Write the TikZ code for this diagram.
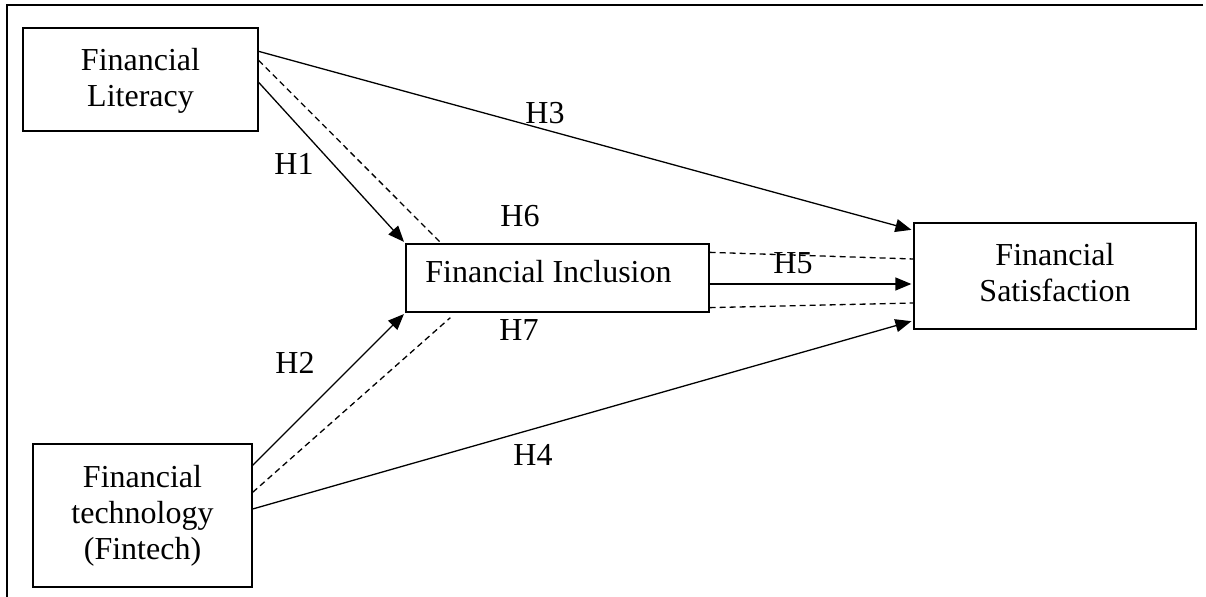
\documentclass[tikz,border=0pt]{standalone}
\usepackage{fontspec}
\setmainfont{Liberation Serif}
\usetikzlibrary{positioning,arrows.meta}

\begin{document}
\begin{tikzpicture}
	[x=0.5pt,y=-0.5pt,on grid,line width=0.65pt,
	 font=\fontsize{16pt}{18pt}\selectfont,
	 box/.style={draw,rectangle,align=center,inner sep=0pt},
	 hyp/.style={inner sep=0pt},
	 arr/.style={-{Triangle[length=8pt,width=6.5pt]},shorten >=1pt},
	 dashline/.style={dash pattern=on 3pt off 2pt}]
	\useasboundingbox (0,0) rectangle (1206,597);
	\draw[line width=0.9pt] (1203,5) -- (7,5) -- (7,597);

	\node[box,minimum width=117.5pt,minimum height=51.5pt,text depth=2pt] (lit) at (140.5,79.5) {Financial\\Literacy};
	\node[box,minimum width=151.5pt,minimum height=34pt,text depth=7pt] (incl) [below right=99.25pt and 208.5pt of lit] {Financial Inclusion\kern9pt};
	\node[box,minimum width=141pt,minimum height=53pt,text depth=3.6pt] (sat) [right=248.75pt of incl,yshift=1pt] {Financial\\Satisfaction};
	\node[box,minimum width=109.5pt,minimum height=71.5pt] (fin) [below=218pt of lit,xshift=1pt] {Financial\\technology\\(Fintech)};

	\draw[arr] ([yshift=-12pt]lit.north east) -- ([yshift=-4pt]sat.north west);
	\draw[dashline] ([yshift=-16.5pt]lit.north east) -- ([xshift=18pt]incl.north west);
	\draw[arr] ([yshift=-27.5pt]lit.north east) -- (incl.north west);
	\draw[arr] ([yshift=-11pt]fin.north east) -- (incl.south west);
	\draw[dashline] ([yshift=-24.5pt]fin.north east) -- ([xshift=22.5pt,yshift=-2.5pt]incl.south west);
	\draw[arr] ([yshift=3.25pt]fin.east) -- ([yshift=4.5pt]sat.south west);
	\draw[arr] ([yshift=-3pt]incl.east) -- ([yshift=-4pt]sat.west);
	\draw[dashline] ([yshift=-4.5pt]incl.north east) -- ([yshift=8.5pt]sat.west);
	\draw[dashline] ([yshift=2.5pt]incl.south east) -- ([yshift=-13.5pt]sat.west);

	\node[hyp] (h1) at (294,164) {H1};
	\node[hyp] (h2) at (295,363) {H2};
	\node[hyp] (h3) at (545,113) {H3};
	\node[hyp] (h4) at (533,455) {H4};
	\node[hyp] (h5) at (793,263) {H5};
	\node[hyp] (h6) at (520,216) {H6};
	\node[hyp] (h7) at (519,330) {H7};
\end{tikzpicture}
\end{document}
